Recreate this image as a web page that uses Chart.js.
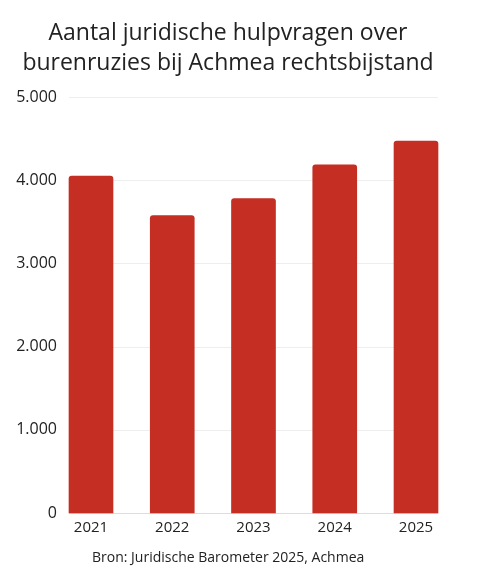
<!DOCTYPE html>
<html lang="nl">
<head>
  <meta charset="UTF-8">
  <title>Burenruzies Achmea</title>
  <script src="https://cdn.jsdelivr.net/npm/chart.js"></script>
  <style>
    body {
      margin: 0;
      background: #fff;
      font-family: "Open Sans", sans-serif;
    }
    #wrap {
      position: relative;
      width: 482px;
      height: 582px;
    }
    #chart {
      position: absolute;
      left: 0;
      top: 0;
    }
    h1 {
      position: absolute;
      top: 16px;
      left: 0;
      width: 456px;
      margin: 0;
      text-align: center;
      font-size: 23px;
      font-weight: 400;
      line-height: 30px;
      color: #222;
    }
    #source {
      position: absolute;
      left: 92px;
      top: 548px;
      font-size: 14px;
      line-height: 18px;
      color: #222;
    }
  </style>
</head>
<body>
  <div id="wrap">
    <canvas id="chart" width="482" height="582"></canvas>
    <h1>Aantal juridische hulpvragen over<br>burenruzies bij Achmea rechtsbijstand</h1>
    <div id="source">Bron: Juridische Barometer 2025, Achmea</div>
  </div>

  <script>
    // data
    const years = ['2021', '2022', '2023', '2024', '2025'];
    const hulpvragen = [4050, 3575, 3780, 4185, 4470];
    const yTicks = [0, 1000, 2000, 3000, 4000, 5000];

    function dots(v) {
      return String(v).replace(/\B(?=(\d{3})+(?!\d))/g, '.');
    }

    // grid lines that run a bit past the first and last bar
    const extGrid = {
      id: 'extGrid',
      beforeDatasetsDraw(chart) {
        const { ctx, chartArea, scales } = chart;
        const ext = 22;
        ctx.save();
        yTicks.forEach(v => {
          const y = Math.round(scales.y.getPixelForValue(v)) + 0.5;
          ctx.strokeStyle = v === 0 ? '#dddddd' : '#eeeeee';
          ctx.lineWidth = 1;
          ctx.beginPath();
          ctx.moveTo(chartArea.left - ext, y);
          ctx.lineTo(chartArea.right + ext, y);
          ctx.stroke();
        });
        ctx.restore();
      }
    };

    new Chart(document.getElementById('chart'), {
      type: 'bar',
      data: {
        labels: years,
        datasets: [{
          data: hulpvragen,
          backgroundColor: '#c52e22',
          borderRadius: { topLeft: 3, topRight: 3 },
          borderSkipped: 'start',
          barThickness: 44,
          clip: false
        }]
      },
      options: {
        responsive: false,
        animation: false,
        layout: { padding: { top: 97, right: 66, bottom: 39, left: 0 } },
        plugins: {
          legend: { display: false },
          tooltip: { enabled: false }
        },
        scales: {
          x: {
            offset: false,
            grid: { display: false, drawTicks: false },
            border: { display: false },
            ticks: {
              color: '#222',
              padding: 6,
              font: { family: 'Open Sans', size: 15 }
            },
            afterFit(s) { s.height = 30; }
          },
          y: {
            min: 0,
            max: 5000,
            afterBuildTicks(s) { s.ticks = yTicks.map(v => ({ value: v })); },
            grid: { display: false, drawTicks: false },
            border: { display: false },
            ticks: {
              color: '#222',
              padding: 34,
              font: { family: 'Open Sans', size: 16 },
              callback: v => dots(v)
            },
            afterFit(s) { s.width = 91; }
          }
        }
      },
      plugins: [extGrid]
    });
  </script>
</body>
</html>
